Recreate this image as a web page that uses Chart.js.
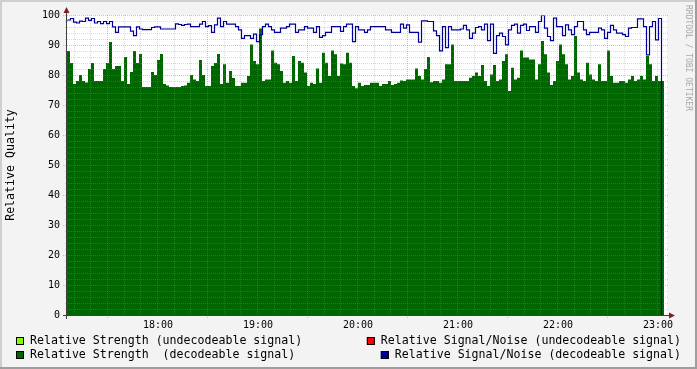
<!DOCTYPE html>
<html>
<head>
<meta charset="utf-8">
<script src="https://cdn.jsdelivr.net/npm/chart.js@4.4.1/dist/chart.umd.min.js"></script>
<style>
  html, body { margin: 0; padding: 0; background: #f3f3f3; }
  canvas { display: block; }
</style>
</head>
<body>
<canvas id="rrdChart" width="697" height="369"></canvas>
<script>
// time axis in minutes since midnight, one sample every 1.8 minutes
const startMinute = 17 * 60 + 6;
const endMinute = startMinute + 360;
const stepMinutes = 1.8;

const hourLabels = ["18:00", "19:00", "20:00", "21:00", "22:00", "23:00"];
const hourMinutes = [1080, 1140, 1200, 1260, 1320, 1380];
const yTickValues = [0, 10, 20, 30, 40, 50, 60, 70, 80, 90, 100];

// Relative Strength (decodeable signal)
const strengthDecodeable = [
  82, 88, 84, 77, 78, 80, 78, 77.5, 82, 84,
  78, 78, 78, 82, 84, 91, 82, 83, 83, 78,
  86, 77, 81, 88, 84, 87, 76, 76, 76, 81,
  80, 85, 87, 77, 76.5, 76, 76, 76, 76, 76.3,
  76.5, 77.4, 80, 78.5, 78, 85, 80, 76.3, 76.3, 83,
  84, 87, 77, 83.6, 77.4, 81.3, 79, 76.3, 76.3, 77.4,
  77.4, 79.7, 90.2, 84.7, 83.6, 95.5, 78, 78.5, 78.5, 88.2,
  84.1, 83.6, 81.3, 77.4, 78, 77.4, 86.3, 78, 84.7, 84.1,
  80.8, 76.3, 77.4, 77, 82.2, 77.4, 87.4, 84.1, 79.7, 88.2,
  86.9, 79.7, 83.8, 83.6, 87.4, 84.1, 76.3, 75.6, 77.4, 76.3,
  76.7, 76.7, 77.4, 77.4, 77.4, 76.3, 77, 77, 78, 76.7,
  77, 77.4, 78.2, 78, 78.5, 78.5, 78.5, 82.2, 79.7, 78.5,
  82, 86, 77.6, 78, 78, 77.4, 78.5, 83.6, 83.6, 90.2,
  78, 78, 78, 78, 78, 79.1, 79.7, 80.8, 79.7, 83.3,
  78, 76.3, 80.2, 83.3, 78, 78.5, 84.7, 86.9, 74.7, 82.4,
  78.5, 79.1, 88.2, 85.8, 85.8, 85.2, 85.2, 78.5, 83.6, 91.3,
  86.9, 80.8, 76.7, 78, 84.7, 90.2, 86.9, 83.6, 78.5, 79.7,
  93, 80.8, 78.5, 78, 84.1, 80.2, 78.5, 78, 83.6, 78,
  78, 88.2, 79.7, 77.4, 77.4, 78, 78, 77.4, 78.5, 79.7,
  78, 78.5, 79.7, 78.5, 86.3, 83.6, 78, 79.7, 78
];

// Relative Signal/Noise (decodeable signal); the last sample drops to 0
const snrDecodeable = [
  98.1, 98.5, 99, 97.8, 97.5, 98.1, 98, 99.1, 98.4, 99,
  97.5, 98, 97.3, 98, 97.3, 98, 96.2, 94.4, 96.2, 96.2,
  96.2, 96.2, 94.8, 93.3, 96.2, 95.5, 95.3, 95.3, 95.3, 96,
  96.2, 96.2, 95.5, 95.5, 95.5, 95.5, 95.5, 97.2, 97, 96.7,
  97, 97.1, 96.3, 96.3, 96.3, 97.1, 98, 96.3, 96.6, 94.4,
  96.9, 99.1, 96.3, 98, 97.1, 97.1, 97.1, 96.3, 95.2, 92.4,
  93.3, 93.3, 92.4, 93.8, 91.3, 93.6, 96.3, 97.1, 96.3, 95.2,
  94.4, 94.4, 95.8, 95.8, 96.3, 97.1, 97.1, 94.4, 95.2, 95.2,
  96.3, 95.8, 95.8, 94.4, 96.3, 92.7, 93.3, 94.4, 94.4, 96.3,
  96.3, 96.3, 94.7, 96.3, 97.1, 97.1, 91.3, 96.3, 95.2, 95.2,
  94.4, 95.2, 96.3, 96.3, 96.3, 96.3, 96.3, 95.2, 95.2, 94.4,
  94.4, 94.4, 97.1, 95.8, 96.9, 94.4, 94.4, 94.4, 91.1, 98.2,
  98.2, 98, 98, 94.9, 93.3, 88.2, 96.3, 89.3, 96.3, 95.2,
  95.2, 95.2, 95.5, 96.7, 95.2, 92.4, 94.1, 96, 96.3, 95.2,
  97.1, 91.6, 97.1, 87.4, 93.3, 94.1, 93, 90.2, 95.2, 96.7,
  97.1, 94.1, 96.7, 97.1, 95, 96.3, 96.3, 94.4, 98, 100,
  95.8, 93, 91.6, 99.1, 96.3, 96.3, 93.3, 96.9, 95.2, 93.6,
  96.3, 98, 98, 95.2, 93.6, 94.4, 94.4, 94.4, 95.8, 95.2,
  92.4, 94.4, 96.7, 95.2, 94.1, 94.1, 93.6, 93, 95.8, 96,
  96, 98.9, 98.9, 96.3, 86.9, 96.3, 98, 91.9, 99, 0
];

const legendItems = [
  { text: "Relative Strength (undecodeable signal)", color: "#7fff00", row: 0, side: "left" },
  { text: "Relative Signal/Noise (undecodeable signal)", color: "#ff0000", row: 0, side: "right" },
  { text: "Relative Strength  (decodeable signal)", color: "#006600", row: 1, side: "left" },
  { text: "Relative Signal/Noise (decodeable signal)", color: "#000099", row: 1, side: "right" }
];

function toPoints(values) {
  return values.map((v, i) => ({ x: startMinute + i * stepMinutes, y: v }));
}

// green area needs a closing point so the last step has a width
const strengthPoints = toPoints(strengthDecodeable);
strengthPoints.push({
  x: startMinute + strengthDecodeable.length * stepMinutes,
  y: strengthDecodeable[strengthDecodeable.length - 1]
});

const monoFont = '"DejaVu Sans Mono", "Liberation Mono", monospace';

function drawGrid(chart) {
  const ctx = chart.ctx;
  const a = chart.chartArea;
  const xs = chart.scales.x, ys = chart.scales.y;
  ctx.save();
  ctx.lineWidth = 1;
  ctx.setLineDash([1, 1]);

  // horizontal lines every 2, major every 10
  for (let v = 2; v <= 100; v += 2) {
    const y = Math.round(ys.getPixelForValue(v)) + 0.5;
    const major = v % 10 === 0;
    ctx.strokeStyle = major ? "rgba(222,79,79,0.42)" : "rgba(140,140,140,0.32)";
    ctx.beginPath();
    ctx.moveTo(major ? a.left - 4 : a.left - 2, y);
    ctx.lineTo(a.right + 2, y);
    ctx.stroke();
  }
  // vertical lines every 10 minutes, major on the half hour
  for (let m = 1030; m < endMinute; m += 10) {
    const x = Math.round(xs.getPixelForValue(m)) + 0.5;
    const major = m % 60 === 30;
    ctx.strokeStyle = major ? "rgba(222,79,79,0.42)" : "rgba(140,140,140,0.32)";
    ctx.beginPath();
    ctx.moveTo(x, a.top);
    ctx.lineTo(x, a.bottom + (major ? 4 : 2));
    ctx.stroke();
  }
  ctx.restore();
}

const rrdLook = {
  id: "rrdLook",
  beforeDraw(chart) {
    const { ctx, chartArea: a, width, height } = chart;
    ctx.save();
    ctx.fillStyle = "#f3f3f3";
    ctx.fillRect(0, 0, width, height);
    ctx.fillStyle = "#cfcfcf";
    ctx.fillRect(0, 0, width, 2);
    ctx.fillRect(0, 0, 2, height);
    ctx.fillStyle = "#9e9e9e";
    ctx.fillRect(0, height - 2, width, 2);
    ctx.fillRect(width - 2, 0, 2, height);
    ctx.fillStyle = "#ffffff";
    ctx.fillRect(a.left, a.top, a.right - a.left, a.bottom - a.top);
    ctx.restore();
  },
  beforeDatasetDraw(chart, args) {
    // keep the 1px S/N line on whole pixels
    if (args.index === 1) {
      chart.ctx.save();
      chart.ctx.translate(0.5, 0.5);
    }
  },
  afterDatasetDraw(chart, args) {
    if (args.index === 1) chart.ctx.restore();
    // grid goes over the filled area, under the S/N line
    if (args.index === 0) drawGrid(chart);
  },
  afterDatasetsDraw(chart) {
    const ctx = chart.ctx;
    const a = chart.chartArea;
    const xs = chart.scales.x, ys = chart.scales.y;
    ctx.save();

    // axes
    ctx.strokeStyle = "#404040";
    ctx.lineWidth = 1;
    ctx.beginPath();
    ctx.moveTo(a.left - 4, a.bottom + 0.5);
    ctx.lineTo(a.right + 4, a.bottom + 0.5);
    ctx.moveTo(a.left - 0.5, a.bottom + 4);
    ctx.lineTo(a.left - 0.5, a.top - 4);
    ctx.stroke();

    // arrows
    ctx.fillStyle = "#801f1f";
    ctx.beginPath();
    ctx.moveTo(a.left - 0.5, a.top - 8);
    ctx.lineTo(a.left - 3.5, a.top - 2);
    ctx.lineTo(a.left + 2.5, a.top - 2);
    ctx.closePath();
    ctx.fill();
    ctx.beginPath();
    ctx.moveTo(a.right + 8, a.bottom + 0.5);
    ctx.lineTo(a.right + 2, a.bottom - 2.5);
    ctx.lineTo(a.right + 2, a.bottom + 3.5);
    ctx.closePath();
    ctx.fill();

    // y tick labels
    ctx.fillStyle = "#000000";
    ctx.font = "10px " + monoFont;
    ctx.textAlign = "right";
    ctx.textBaseline = "middle";
    yTickValues.forEach(v => {
      ctx.fillText(String(v), a.left - 7, ys.getPixelForValue(v) + 0.5);
    });

    // x tick labels
    ctx.textAlign = "center";
    hourLabels.forEach((lab, i) => {
      ctx.fillText(lab, xs.getPixelForValue(hourMinutes[i]) + 1, a.bottom + 10);
    });

    // vertical axis title
    ctx.font = "11.6px " + monoFont;
    ctx.save();
    ctx.translate(11, 165);
    ctx.rotate(-Math.PI / 2);
    ctx.textAlign = "center";
    ctx.fillText("Relative Quality", 0, 0);
    ctx.restore();

    // watermark
    ctx.save();
    ctx.font = "8px " + monoFont;
    ctx.fillStyle = "#a8a8a8";
    ctx.translate(688, 5);
    ctx.rotate(Math.PI / 2);
    ctx.textAlign = "left";
    ctx.textBaseline = "middle";
    ctx.fillText("RRDTOOL / TOBI OETIKER", 0, 0);
    ctx.restore();

    // legend
    ctx.font = "11.6px " + monoFont;
    ctx.textBaseline = "middle";
    ctx.textAlign = "left";
    legendItems.forEach(item => {
      const y = 341 + item.row * 14;
      const w = ctx.measureText(item.text).width;
      const tx = item.side === "left" ? 30 : 681 - w;
      const bx = tx - 14;
      ctx.fillStyle = item.color;
      ctx.fillRect(bx, y - 4, 8, 8);
      ctx.strokeStyle = "#000000";
      ctx.strokeRect(bx + 0.5, y - 3.5, 7, 7);
      ctx.fillStyle = "#000000";
      ctx.fillText(item.text, tx, y);
    });

    ctx.restore();
  }
};

new Chart(document.getElementById("rrdChart"), {
  type: "line",
  data: {
    datasets: [
      {
        label: "Relative Strength  (decodeable signal)",
        data: strengthPoints,
        stepped: "after",
        fill: "origin",
        backgroundColor: "#006600",
        borderColor: "#006600",
        borderWidth: 0,
        pointRadius: 0,
        order: 2
      },
      {
        label: "Relative Signal/Noise (decodeable signal)",
        data: toPoints(snrDecodeable),
        stepped: "after",
        fill: false,
        borderColor: "#000099",
        borderWidth: 1.2,
        pointRadius: 0,
        order: 1
      }
    ]
  },
  options: {
    responsive: false,
    animation: false,
    devicePixelRatio: 1,
    layout: { padding: { left: 67, top: 15, right: 30, bottom: 54 } },
    scales: {
      x: { type: "linear", min: startMinute, max: endMinute, display: false },
      y: { min: 0, max: 100, display: false }
    },
    plugins: {
      legend: { display: false },
      tooltip: { enabled: false }
    }
  },
  plugins: [rrdLook]
});
</script>
</body>
</html>
